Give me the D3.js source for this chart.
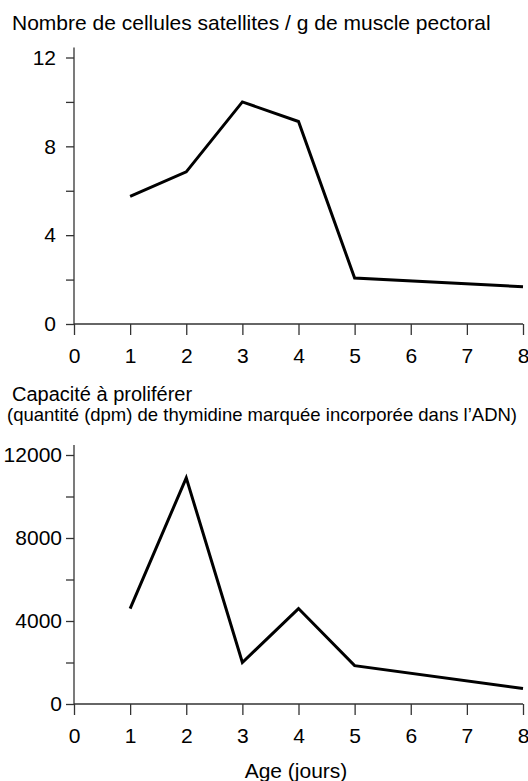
<!DOCTYPE html>
<html>
<head>
<meta charset="utf-8">
<script src="https://cdn.jsdelivr.net/npm/d3@7/dist/d3.min.js"></script>
<style>
  html, body { margin: 0; padding: 0; background: #fff; }
  svg { display: block; }
  text { font-family: "Liberation Sans", Arial, Helvetica, sans-serif; fill: #000; }
</style>
</head>
<body>
<svg id="chart" width="528" height="781"></svg>
<script>
// ---- data ----
const days = [1, 2, 3, 4, 5, 8];
const satelliteCells = [5.75, 6.85, 10.0, 9.12, 2.07, 1.68];
const proliferation = [4600, 10900, 2000, 4600, 1850, 750];
const xTicks = [0, 1, 2, 3, 4, 5, 6, 7, 8];
const yTicksTop = [0, 2, 4, 6, 8, 10, 12];
const yLabelsTop = [0, 4, 8, 12];
const yTicksBottom = [0, 2000, 4000, 6000, 8000, 10000, 12000];
const yLabelsBottom = [0, 4000, 8000, 12000];
const titleTop = "Nombre de cellules satellites / g de muscle pectoral";
const titleBottom = "Capacité à proliférer";
const subtitleBottom = "(quantité (dpm) de thymidine marquée incorporée dans l’ADN)";
const xLabel = "Age (jours)";

const svg = d3.select("#chart");
const x = d3.scaleLinear().domain([0, 8]).range([74, 523]);

function panel(opts) {
  const y = d3.scaleLinear().domain(opts.domain).range(opts.range);
  const g = svg.append("g");
  // x axis
  const xa = g.append("g")
    .attr("transform", `translate(0,${y(0)})`)
    .call(d3.axisBottom(x).tickValues(xTicks).tickSize(11).tickPadding(13).tickFormat(d3.format("d")));
  xa.select(".domain").remove();
  xa.selectAll(".tick line").attr("stroke", "#333").attr("stroke-width", 1.3);
  xa.selectAll("text").style("font-size", "21px");
  g.append("line")
    .attr("x1", x(0)).attr("x2", x(8))
    .attr("y1", y(0)).attr("y2", y(0))
    .attr("stroke", "#333").attr("stroke-width", 1.3);
  // y axis
  const ya = g.append("g")
    .attr("transform", `translate(${x(0)},0)`)
    .call(d3.axisLeft(y).tickValues(opts.ticks).tickSize(8).tickPadding(opts.pad)
      .tickFormat(d => opts.labels.includes(d) ? String(d) : ""));
  ya.select(".domain").remove();
  ya.selectAll(".tick line").attr("stroke", "#333").attr("stroke-width", 1.3);
  ya.selectAll("text").style("font-size", "21px");
  g.append("line")
    .attr("x1", x(0)).attr("x2", x(0))
    .attr("y1", y(0)).attr("y2", y(opts.domain[1]) - 10)
    .attr("stroke", "#333").attr("stroke-width", 1.3);
  // line
  const line = d3.line().x((d, i) => x(days[i])).y(d => y(d));
  g.append("path")
    .datum(opts.values)
    .attr("d", line)
    .attr("fill", "none")
    .attr("stroke", "#000")
    .attr("stroke-width", 3)
    .attr("stroke-linejoin", "miter");
  return y;
}

panel({ domain: [0, 12], range: [324, 57.5], ticks: yTicksTop, labels: yLabelsTop, pad: 10, values: satelliteCells });
panel({ domain: [0, 12000], range: [704, 455], ticks: yTicksBottom, labels: yLabelsBottom, pad: 4, values: proliferation });

svg.append("text").attr("x", 12).attr("y", 30).style("font-size", "21px").text(titleTop);
svg.append("text").attr("x", 12).attr("y", 401).style("font-size", "20px").text(titleBottom);
svg.append("text").attr("x", 7).attr("y", 421).style("font-size", "18.5px").text(subtitleBottom);
svg.append("text").attr("x", 296).attr("y", 778).attr("text-anchor", "middle").style("font-size", "21px").text(xLabel);
</script>
</body>
</html>
